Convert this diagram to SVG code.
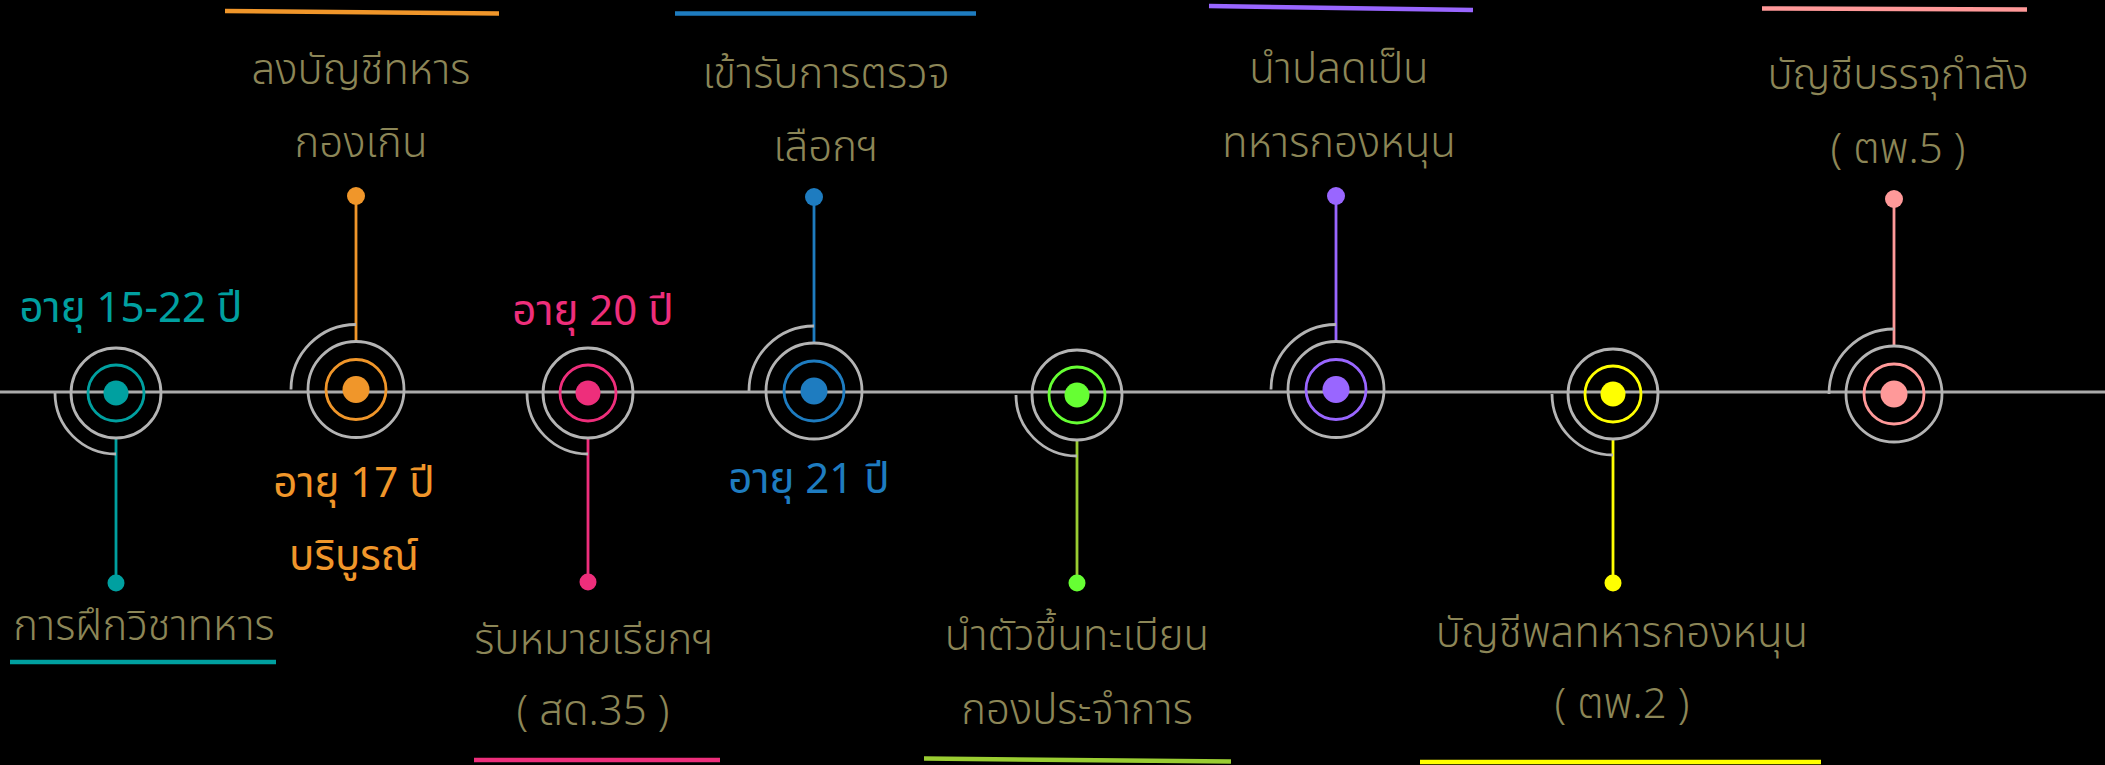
<svg xmlns="http://www.w3.org/2000/svg" width="2105" height="765" viewBox="0 0 2105 765">
<style>
.bg{fill:#000}
.tl{stroke:#ababab;stroke-width:3;fill:none}
.g{stroke:#b4b4b4;stroke-width:2.8;fill:none}
.ring{fill:none;stroke-width:2.8}
.stem{stroke-width:2.8;fill:none}
.bar{stroke-width:4.5;fill:none}
.lbl{font-family:"Noto Sans Thai","Noto Sans","Liberation Sans",sans-serif;font-weight:300;font-stretch:condensed;font-size:42px;fill:#8c8657;text-anchor:middle}
.age{font-family:"Noto Sans Thai","Noto Sans","Liberation Sans",sans-serif;font-weight:400;font-size:42px;text-anchor:middle}
</style>
<rect class="bg" x="0" y="0" width="2105" height="765"/>
<g id="connectors">
<line class="tl" x1="0" y1="392" x2="2105" y2="392"/>
<line class="stem" stroke="#00a0a0" x1="116" y1="439" x2="116" y2="583"/>
<line class="stem" stroke="#f0962a" x1="356" y1="341" x2="356" y2="196"/>
<line class="stem" stroke="#ee2e7b" x1="588" y1="438" x2="588" y2="582"/>
<line class="stem" stroke="#1e7cc0" x1="814" y1="343" x2="814" y2="197"/>
<line class="stem" stroke="#9acd32" x1="1077" y1="440" x2="1077" y2="583"/>
<line class="stem" stroke="#9966ff" x1="1336" y1="341" x2="1336" y2="196"/>
<line class="stem" stroke="#ffff00" x1="1613" y1="439" x2="1613" y2="583"/>
<line class="stem" stroke="#ff9999" x1="1894" y1="346" x2="1894" y2="199"/>
</g>
<g id="node1">
<path class="g" d="M55,393 A61,61 0 0 0 116,454"/>
<circle class="g" cx="116" cy="393" r="45"/>
<circle class="ring" stroke="#00a0a0" cx="116" cy="393" r="28"/>
<circle fill="#00a0a0" cx="116" cy="393" r="12.5"/>
<circle fill="#00a0a0" cx="116" cy="583" r="8.5"/>
<text class="age" fill="#00a0a0" x="131" y="322">อายุ 15-22 ปี</text>
<text class="lbl" x="144" y="640">การฝึกวิชาทหาร</text>
<line class="bar" stroke="#00a0a0" x1="10" y1="662" x2="276" y2="662"/>
</g>
<g id="node2">
<path class="g" d="M291,389.5 A65,65 0 0 1 356,324.5"/>
<circle class="g" cx="356" cy="389.5" r="48"/>
<circle class="ring" stroke="#f0962a" cx="356" cy="389.5" r="30"/>
<circle fill="#f0962a" cx="356" cy="389.5" r="13.5"/>
<circle fill="#f0962a" cx="356" cy="196" r="9"/>
<text class="age" fill="#f0962a" x="354" y="497">อายุ 17 ปี</text>
<text class="age" fill="#f0962a" x="354" y="570">บริบูรณ์</text>
<text class="lbl" x="361" y="84">ลงบัญชีทหาร</text>
<text class="lbl" x="361" y="157">กองเกิน</text>
<line class="bar" stroke="#f0962a" x1="225" y1="11" x2="499" y2="13.5"/>
</g>
<g id="node3">
<path class="g" d="M527,393 A61,61 0 0 0 588,454"/>
<circle class="g" cx="588" cy="393" r="45"/>
<circle class="ring" stroke="#ee2e7b" cx="588" cy="393" r="28"/>
<circle fill="#ee2e7b" cx="588" cy="393" r="12.5"/>
<circle fill="#ee2e7b" cx="588" cy="582" r="8.5"/>
<text class="age" fill="#ee2e7b" x="593" y="325">อายุ 20 ปี</text>
<text class="lbl" x="594" y="654">รับหมายเรียกฯ</text>
<text class="lbl" x="593" y="725">( สด.35 )</text>
<line class="bar" stroke="#ee2e7b" x1="474" y1="760" x2="720" y2="760"/>
</g>
<g id="node4">
<path class="g" d="M749,391 A65,65 0 0 1 814,326"/>
<circle class="g" cx="814" cy="391" r="48"/>
<circle class="ring" stroke="#1e7cc0" cx="814" cy="391" r="30"/>
<circle fill="#1e7cc0" cx="814" cy="391" r="13.5"/>
<circle fill="#1e7cc0" cx="814" cy="197" r="9"/>
<text class="age" fill="#1e7cc0" x="809" y="493">อายุ 21 ปี</text>
<text class="lbl" x="826" y="88">เข้ารับการตรวจ</text>
<text class="lbl" x="826" y="161">เลือกฯ</text>
<line class="bar" stroke="#1e7cc0" x1="675" y1="13.5" x2="976" y2="13.5"/>
</g>
<g id="node5">
<path class="g" d="M1016,395 A61,61 0 0 0 1077,456"/>
<circle class="g" cx="1077" cy="395" r="45"/>
<circle class="ring" stroke="#66ff33" cx="1077" cy="395" r="28"/>
<circle fill="#66ff33" cx="1077" cy="395" r="12.5"/>
<circle fill="#66ff33" cx="1077" cy="583" r="8.5"/>
<text class="lbl" x="1077" y="650">นำตัวขึ้นทะเบียน</text>
<text class="lbl" x="1077" y="724">กองประจำการ</text>
<line class="bar" stroke="#9acd32" x1="924" y1="758.5" x2="1231" y2="761.5"/>
</g>
<g id="node6">
<path class="g" d="M1271,389.5 A65,65 0 0 1 1336,324.5"/>
<circle class="g" cx="1336" cy="389.5" r="48"/>
<circle class="ring" stroke="#9966ff" cx="1336" cy="389.5" r="30"/>
<circle fill="#9966ff" cx="1336" cy="389.5" r="13.5"/>
<circle fill="#9966ff" cx="1336" cy="196" r="9"/>
<text class="lbl" x="1339" y="83">นำปลดเป็น</text>
<text class="lbl" x="1339" y="157">ทหารกองหนุน</text>
<line class="bar" stroke="#9966ff" x1="1209" y1="6" x2="1473" y2="10"/>
</g>
<g id="node7">
<path class="g" d="M1552,394 A61,61 0 0 0 1613,455"/>
<circle class="g" cx="1613" cy="394" r="45"/>
<circle class="ring" stroke="#ffff00" cx="1613" cy="394" r="28"/>
<circle fill="#ffff00" cx="1613" cy="394" r="12.5"/>
<circle fill="#ffff00" cx="1613" cy="583" r="8.5"/>
<text class="lbl" x="1622" y="647">บัญชีพลทหารกองหนุน</text>
<text class="lbl" x="1622" y="718">( ตพ.2 )</text>
<line class="bar" stroke="#ffff00" x1="1420" y1="762" x2="1821" y2="762"/>
</g>
<g id="node8">
<path class="g" d="M1829,394 A65,65 0 0 1 1894,329"/>
<circle class="g" cx="1894" cy="394" r="48"/>
<circle class="ring" stroke="#ff9999" cx="1894" cy="394" r="30"/>
<circle fill="#ff9999" cx="1894" cy="394" r="13.5"/>
<circle fill="#ff9999" cx="1894" cy="199" r="9"/>
<text class="lbl" x="1898" y="89">บัญชีบรรจุกำลัง</text>
<text class="lbl" x="1898" y="163">( ตพ.5 )</text>
<line class="bar" stroke="#ff9999" x1="1762" y1="8.5" x2="2027" y2="9.5"/>
</g>
</svg>
